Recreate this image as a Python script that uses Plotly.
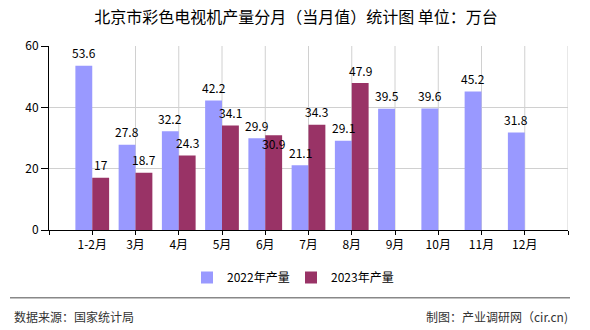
import plotly.graph_objects as go

categories = ["1-2月", "3月", "4月", "5月", "6月", "7月", "8月", "9月", "10月", "11月", "12月"]
values_2022 = [53.6, 27.8, 32.2, 42.2, 29.9, 21.1, 29.1, 39.5, 39.6, 45.2, 31.8]
values_2023 = [17, 18.7, 24.3, 34.1, 30.9, 34.3, 47.9]
series_names = ["2022年产量", "2023年产量"]
y_ticks = [0, 20, 40, 60]
title_text = "北京市彩色电视机产量分月（当月值）统计图 单位：万台"
source_text = "数据来源：国家统计局"
credit_text = "制图：产业调研网（cir.cn)"

W, H = 590, 330
L, R, T, B = 49, 22, 46, 100
PW, PH = W - L - R, H - T - B
FONT = "Noto Sans CJK SC"
C22, C23 = "#9999FF", "#993366"
BARGAP = 0.22


def px2paper_x(px):
    return (px - L) / PW


def px2paper_y(py):
    return (H - B - py) / PH


def fmt(v):
    return f"{v:g}"


n = len(categories)
xs = list(range(n))
fig = go.Figure()
fig.add_trace(go.Bar(x=xs, y=values_2022, name=series_names[0], marker_color=C22,
                     marker_line_width=0, hoverinfo="skip"))
fig.add_trace(go.Bar(x=xs[:len(values_2023)], y=values_2023, name=series_names[1],
                     marker_color=C23, marker_line_width=0, hoverinfo="skip"))

# vertical grid lines (none at first category)
shapes = []
for i in range(1, n + 1):
    shapes.append(dict(type="line", xref="x", yref="paper", x0=i, x1=i, y0=0, y1=1,
                       line=dict(color="#d0d0d0", width=1), layer="below"))
# footer separator
shapes.append(dict(type="line", xref="paper", yref="paper",
                   x0=px2paper_x(10), x1=px2paper_x(570),
                   y0=px2paper_y(297.7), y1=px2paper_y(297.7),
                   line=dict(color="#888888", width=1.5)))

off = (1 - BARGAP) / 4
annotations = []
for i, v in enumerate(values_2022):
    annotations.append(dict(x=i - off, y=v, xref="x", yref="y", text=fmt(v), showarrow=False,
                            yanchor="middle", yshift=13, font=dict(family=FONT, size=12, color="black")))
for i, v in enumerate(values_2023):
    shift = -8 if categories[i] == "6月" else 13
    annotations.append(dict(x=i + off, y=v, xref="x", yref="y", text=fmt(v), showarrow=False,
                            yanchor="middle", yshift=shift, font=dict(family=FONT, size=12, color="black")))
annotations.append(dict(x=px2paper_x(11.7), y=px2paper_y(316), xref="paper", yref="paper",
                        text=source_text, showarrow=False, xanchor="left", yanchor="middle",
                        font=dict(family=FONT, size=12, color="#333333")))
annotations.append(dict(x=px2paper_x(570), y=px2paper_y(316), xref="paper", yref="paper",
                        text=credit_text, showarrow=False, xanchor="right", yanchor="middle",
                        font=dict(family=FONT, size=12, color="#333333")))

fig.update_layout(
    width=W, height=H,
    margin=dict(l=L, r=R, t=T, b=B, pad=0),
    paper_bgcolor="white", plot_bgcolor="white",
    barmode="group", bargap=BARGAP, bargroupgap=0,
    font=dict(family=FONT, size=12, color="black"),
    title=dict(text=title_text, x=296 / W, xanchor="center", y=1 - 17 / H, yanchor="middle",
               font=dict(family=FONT, size=16, color="black")),
    showlegend=True,
    legend=dict(orientation="h", x=px2paper_x(291), xanchor="center",
                y=px2paper_y(277.5), yanchor="middle", entrywidth=59, entrywidthmode="pixels",
                font=dict(family=FONT, size=12, color="black"), bgcolor="rgba(0,0,0,0)"),
    shapes=shapes,
    annotations=annotations,
)
fig.update_xaxes(range=[-1, n], tickmode="array", tickvals=[-1] + xs + [n],
                 ticktext=[""] + categories + [""], showgrid=False, zeroline=False,
                 showline=True, linecolor="black", linewidth=1,
                 ticks="outside", ticklen=4, tickcolor="black",
                 tickfont=dict(family=FONT, size=12, color="black"), fixedrange=True)
fig.update_yaxes(range=[0, 60], tickmode="array", tickvals=y_ticks, showgrid=True,
                 gridcolor="#d0d0d0", gridwidth=1, zeroline=False,
                 showline=True, linecolor="black", linewidth=1,
                 ticks="outside", ticklen=7, tickcolor="black",
                 tickfont=dict(family=FONT, size=12, color="black"), fixedrange=True)

fig.write_html("out.html")
